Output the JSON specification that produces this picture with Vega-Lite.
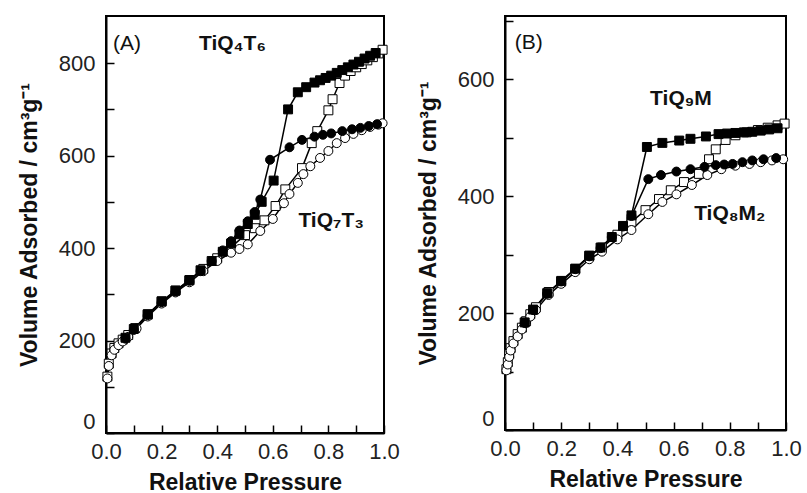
{
  "$schema": "https://vega.github.io/schema/vega-lite/v6.json",
  "background": "white",
  "padding": {"left": 17, "top": 15, "right": 5, "bottom": 2},
  "spacing": 15,
  "config": {
    "view": {"stroke": "black", "strokeWidth": 2},
    "font": "Liberation Sans",
    "axis": {
      "domainColor": "black", "domainWidth": 2, "zindex": 1, "ticks": true,
      "tickColor": "black", "tickWidth": 1.5,
      "labelFontSize": 22, "labelColor": "#222",
      "titleFontSize": 23, "titleFontWeight": "bold", "titleColor": "#111",
      "grid": false
    }
  },
  "data": {"values": [
    {"panel":"A","lab":"n","t":"(A)","p":0.025,"v":842},
    {"panel":"A","lab":"b","t":"TiQ₄T₆","p":0.455,"v":842},
    {"panel":"A","lab":"b","t":"TiQ₇T₃","p":0.81,"v":458},
    {"panel":"B","lab":"n","t":"(B)","p":0.035,"v":662},
    {"panel":"B","lab":"b","t":"TiQ₉M","p":0.626,"v":566},
    {"panel":"B","lab":"b","t":"TiQ₈M₂","p":0.8,"v":369},
    {"panel":"A","s":"TiQ4T6","b":"ads","p":0.005,"v":122},
    {"panel":"A","s":"TiQ4T6","b":"ads","p":0.01,"v":150},
    {"panel":"A","s":"TiQ4T6","b":"ads","p":0.02,"v":172},
    {"panel":"A","s":"TiQ4T6","b":"ads","p":0.03,"v":184},
    {"panel":"A","s":"TiQ4T6","b":"ads","p":0.045,"v":194},
    {"panel":"A","s":"TiQ4T6","b":"ads","p":0.06,"v":202},
    {"panel":"A","s":"TiQ4T6","b":"ads","p":0.08,"v":212},
    {"panel":"A","s":"TiQ4T6","b":"ads","p":0.105,"v":227},
    {"panel":"A","s":"TiQ4T6","b":"ads","p":0.15,"v":256},
    {"panel":"A","s":"TiQ4T6","b":"ads","p":0.2,"v":284},
    {"panel":"A","s":"TiQ4T6","b":"ads","p":0.25,"v":308},
    {"panel":"A","s":"TiQ4T6","b":"ads","p":0.3,"v":330},
    {"panel":"A","s":"TiQ4T6","b":"ads","p":0.35,"v":355},
    {"panel":"A","s":"TiQ4T6","b":"ads","p":0.4,"v":378},
    {"panel":"A","s":"TiQ4T6","b":"ads","p":0.45,"v":402},
    {"panel":"A","s":"TiQ4T6","b":"ads","p":0.5,"v":428},
    {"panel":"A","s":"TiQ4T6","b":"ads","p":0.535,"v":443},
    {"panel":"A","s":"TiQ4T6","b":"ads","p":0.57,"v":460},
    {"panel":"A","s":"TiQ4T6","b":"ads","p":0.61,"v":491},
    {"panel":"A","s":"TiQ4T6","b":"ads","p":0.645,"v":527},
    {"panel":"A","s":"TiQ4T6","b":"ads","p":0.705,"v":573},
    {"panel":"A","s":"TiQ4T6","b":"ads","p":0.74,"v":627},
    {"panel":"A","s":"TiQ4T6","b":"ads","p":0.76,"v":653},
    {"panel":"A","s":"TiQ4T6","b":"ads","p":0.8,"v":698},
    {"panel":"A","s":"TiQ4T6","b":"ads","p":0.815,"v":722},
    {"panel":"A","s":"TiQ4T6","b":"ads","p":0.84,"v":757},
    {"panel":"A","s":"TiQ4T6","b":"ads","p":0.86,"v":773},
    {"panel":"A","s":"TiQ4T6","b":"ads","p":0.88,"v":783},
    {"panel":"A","s":"TiQ4T6","b":"ads","p":0.9,"v":791},
    {"panel":"A","s":"TiQ4T6","b":"ads","p":0.92,"v":798},
    {"panel":"A","s":"TiQ4T6","b":"ads","p":0.94,"v":806},
    {"panel":"A","s":"TiQ4T6","b":"ads","p":0.96,"v":813},
    {"panel":"A","s":"TiQ4T6","b":"ads","p":0.98,"v":821},
    {"panel":"A","s":"TiQ4T6","b":"ads","p":0.995,"v":829},
    {"panel":"A","s":"TiQ4T6","b":"des","p":0.97,"v":822},
    {"panel":"A","s":"TiQ4T6","b":"des","p":0.95,"v":816},
    {"panel":"A","s":"TiQ4T6","b":"des","p":0.93,"v":810},
    {"panel":"A","s":"TiQ4T6","b":"des","p":0.91,"v":803},
    {"panel":"A","s":"TiQ4T6","b":"des","p":0.89,"v":797},
    {"panel":"A","s":"TiQ4T6","b":"des","p":0.87,"v":791},
    {"panel":"A","s":"TiQ4T6","b":"des","p":0.85,"v":785},
    {"panel":"A","s":"TiQ4T6","b":"des","p":0.83,"v":779},
    {"panel":"A","s":"TiQ4T6","b":"des","p":0.81,"v":773},
    {"panel":"A","s":"TiQ4T6","b":"des","p":0.79,"v":768},
    {"panel":"A","s":"TiQ4T6","b":"des","p":0.77,"v":763},
    {"panel":"A","s":"TiQ4T6","b":"des","p":0.75,"v":758},
    {"panel":"A","s":"TiQ4T6","b":"des","p":0.72,"v":748},
    {"panel":"A","s":"TiQ4T6","b":"des","p":0.69,"v":737},
    {"panel":"A","s":"TiQ4T6","b":"des","p":0.655,"v":700},
    {"panel":"A","s":"TiQ4T6","b":"des","p":0.603,"v":546},
    {"panel":"A","s":"TiQ4T6","b":"des","p":0.56,"v":500},
    {"panel":"A","s":"TiQ4T6","b":"des","p":0.535,"v":472},
    {"panel":"A","s":"TiQ4T6","b":"des","p":0.51,"v":452},
    {"panel":"A","s":"TiQ4T6","b":"des","p":0.48,"v":430},
    {"panel":"A","s":"TiQ4T6","b":"des","p":0.45,"v":410},
    {"panel":"A","s":"TiQ4T6","b":"des","p":0.42,"v":392},
    {"panel":"A","s":"TiQ4T6","b":"des","p":0.38,"v":372},
    {"panel":"A","s":"TiQ4T6","b":"des","p":0.34,"v":352},
    {"panel":"A","s":"TiQ4T6","b":"des","p":0.3,"v":331},
    {"panel":"A","s":"TiQ4T6","b":"des","p":0.25,"v":308},
    {"panel":"A","s":"TiQ4T6","b":"des","p":0.2,"v":285},
    {"panel":"A","s":"TiQ4T6","b":"des","p":0.15,"v":257},
    {"panel":"A","s":"TiQ4T6","b":"des","p":0.1,"v":225},
    {"panel":"A","s":"TiQ4T6","b":"des","p":0.07,"v":206},
    {"panel":"A","s":"TiQ7T3","b":"ads","p":0.005,"v":118},
    {"panel":"A","s":"TiQ7T3","b":"ads","p":0.01,"v":145},
    {"panel":"A","s":"TiQ7T3","b":"ads","p":0.02,"v":168},
    {"panel":"A","s":"TiQ7T3","b":"ads","p":0.03,"v":180},
    {"panel":"A","s":"TiQ7T3","b":"ads","p":0.045,"v":190},
    {"panel":"A","s":"TiQ7T3","b":"ads","p":0.06,"v":198},
    {"panel":"A","s":"TiQ7T3","b":"ads","p":0.08,"v":208},
    {"panel":"A","s":"TiQ7T3","b":"ads","p":0.11,"v":226},
    {"panel":"A","s":"TiQ7T3","b":"ads","p":0.15,"v":252},
    {"panel":"A","s":"TiQ7T3","b":"ads","p":0.2,"v":280},
    {"panel":"A","s":"TiQ7T3","b":"ads","p":0.25,"v":304},
    {"panel":"A","s":"TiQ7T3","b":"ads","p":0.3,"v":326},
    {"panel":"A","s":"TiQ7T3","b":"ads","p":0.35,"v":350},
    {"panel":"A","s":"TiQ7T3","b":"ads","p":0.4,"v":372},
    {"panel":"A","s":"TiQ7T3","b":"ads","p":0.45,"v":390},
    {"panel":"A","s":"TiQ7T3","b":"ads","p":0.48,"v":398},
    {"panel":"A","s":"TiQ7T3","b":"ads","p":0.51,"v":408},
    {"panel":"A","s":"TiQ7T3","b":"ads","p":0.555,"v":437},
    {"panel":"A","s":"TiQ7T3","b":"ads","p":0.6,"v":463},
    {"panel":"A","s":"TiQ7T3","b":"ads","p":0.64,"v":497},
    {"panel":"A","s":"TiQ7T3","b":"ads","p":0.66,"v":517},
    {"panel":"A","s":"TiQ7T3","b":"ads","p":0.69,"v":541},
    {"panel":"A","s":"TiQ7T3","b":"ads","p":0.71,"v":560},
    {"panel":"A","s":"TiQ7T3","b":"ads","p":0.735,"v":577},
    {"panel":"A","s":"TiQ7T3","b":"ads","p":0.77,"v":595},
    {"panel":"A","s":"TiQ7T3","b":"ads","p":0.8,"v":610},
    {"panel":"A","s":"TiQ7T3","b":"ads","p":0.83,"v":627},
    {"panel":"A","s":"TiQ7T3","b":"ads","p":0.86,"v":638},
    {"panel":"A","s":"TiQ7T3","b":"ads","p":0.89,"v":647},
    {"panel":"A","s":"TiQ7T3","b":"ads","p":0.92,"v":655},
    {"panel":"A","s":"TiQ7T3","b":"ads","p":0.95,"v":662},
    {"panel":"A","s":"TiQ7T3","b":"ads","p":0.98,"v":667},
    {"panel":"A","s":"TiQ7T3","b":"ads","p":0.995,"v":670},
    {"panel":"A","s":"TiQ7T3","b":"des","p":0.975,"v":668},
    {"panel":"A","s":"TiQ7T3","b":"des","p":0.945,"v":664},
    {"panel":"A","s":"TiQ7T3","b":"des","p":0.915,"v":660},
    {"panel":"A","s":"TiQ7T3","b":"des","p":0.885,"v":657},
    {"panel":"A","s":"TiQ7T3","b":"des","p":0.85,"v":653},
    {"panel":"A","s":"TiQ7T3","b":"des","p":0.81,"v":648},
    {"panel":"A","s":"TiQ7T3","b":"des","p":0.78,"v":645},
    {"panel":"A","s":"TiQ7T3","b":"des","p":0.75,"v":641},
    {"panel":"A","s":"TiQ7T3","b":"des","p":0.705,"v":634},
    {"panel":"A","s":"TiQ7T3","b":"des","p":0.66,"v":618},
    {"panel":"A","s":"TiQ7T3","b":"des","p":0.59,"v":591},
    {"panel":"A","s":"TiQ7T3","b":"des","p":0.555,"v":505},
    {"panel":"A","s":"TiQ7T3","b":"des","p":0.535,"v":478},
    {"panel":"A","s":"TiQ7T3","b":"des","p":0.51,"v":458},
    {"panel":"A","s":"TiQ7T3","b":"des","p":0.48,"v":438},
    {"panel":"A","s":"TiQ7T3","b":"des","p":0.45,"v":415},
    {"panel":"A","s":"TiQ7T3","b":"des","p":0.42,"v":395},
    {"panel":"A","s":"TiQ7T3","b":"des","p":0.38,"v":372},
    {"panel":"A","s":"TiQ7T3","b":"des","p":0.34,"v":350},
    {"panel":"A","s":"TiQ7T3","b":"des","p":0.3,"v":329},
    {"panel":"A","s":"TiQ7T3","b":"des","p":0.25,"v":306},
    {"panel":"A","s":"TiQ7T3","b":"des","p":0.2,"v":283},
    {"panel":"A","s":"TiQ7T3","b":"des","p":0.15,"v":255},
    {"panel":"A","s":"TiQ7T3","b":"des","p":0.1,"v":223},
    {"panel":"A","s":"TiQ7T3","b":"des","p":0.07,"v":204},
    {"panel":"B","s":"TiQ9M","b":"ads","p":0.005,"v":104},
    {"panel":"B","s":"TiQ9M","b":"ads","p":0.01,"v":116},
    {"panel":"B","s":"TiQ9M","b":"ads","p":0.015,"v":130},
    {"panel":"B","s":"TiQ9M","b":"ads","p":0.02,"v":140},
    {"panel":"B","s":"TiQ9M","b":"ads","p":0.03,"v":152},
    {"panel":"B","s":"TiQ9M","b":"ads","p":0.045,"v":164},
    {"panel":"B","s":"TiQ9M","b":"ads","p":0.06,"v":175},
    {"panel":"B","s":"TiQ9M","b":"ads","p":0.075,"v":186},
    {"panel":"B","s":"TiQ9M","b":"ads","p":0.09,"v":198},
    {"panel":"B","s":"TiQ9M","b":"ads","p":0.11,"v":210},
    {"panel":"B","s":"TiQ9M","b":"ads","p":0.155,"v":236},
    {"panel":"B","s":"TiQ9M","b":"ads","p":0.2,"v":254},
    {"panel":"B","s":"TiQ9M","b":"ads","p":0.25,"v":275},
    {"panel":"B","s":"TiQ9M","b":"ads","p":0.3,"v":298},
    {"panel":"B","s":"TiQ9M","b":"ads","p":0.345,"v":312},
    {"panel":"B","s":"TiQ9M","b":"ads","p":0.4,"v":334},
    {"panel":"B","s":"TiQ9M","b":"ads","p":0.45,"v":356},
    {"panel":"B","s":"TiQ9M","b":"ads","p":0.5,"v":376},
    {"panel":"B","s":"TiQ9M","b":"ads","p":0.548,"v":395},
    {"panel":"B","s":"TiQ9M","b":"ads","p":0.59,"v":410},
    {"panel":"B","s":"TiQ9M","b":"ads","p":0.637,"v":424},
    {"panel":"B","s":"TiQ9M","b":"ads","p":0.69,"v":438},
    {"panel":"B","s":"TiQ9M","b":"ads","p":0.726,"v":463},
    {"panel":"B","s":"TiQ9M","b":"ads","p":0.75,"v":480},
    {"panel":"B","s":"TiQ9M","b":"ads","p":0.785,"v":496},
    {"panel":"B","s":"TiQ9M","b":"ads","p":0.82,"v":504},
    {"panel":"B","s":"TiQ9M","b":"ads","p":0.86,"v":509},
    {"panel":"B","s":"TiQ9M","b":"ads","p":0.9,"v":513},
    {"panel":"B","s":"TiQ9M","b":"ads","p":0.935,"v":517},
    {"panel":"B","s":"TiQ9M","b":"ads","p":0.97,"v":521},
    {"panel":"B","s":"TiQ9M","b":"ads","p":0.995,"v":524},
    {"panel":"B","s":"TiQ9M","b":"des","p":0.97,"v":516},
    {"panel":"B","s":"TiQ9M","b":"des","p":0.94,"v":514},
    {"panel":"B","s":"TiQ9M","b":"des","p":0.91,"v":512},
    {"panel":"B","s":"TiQ9M","b":"des","p":0.88,"v":510},
    {"panel":"B","s":"TiQ9M","b":"des","p":0.85,"v":509},
    {"panel":"B","s":"TiQ9M","b":"des","p":0.82,"v":508},
    {"panel":"B","s":"TiQ9M","b":"des","p":0.79,"v":507},
    {"panel":"B","s":"TiQ9M","b":"des","p":0.76,"v":506},
    {"panel":"B","s":"TiQ9M","b":"des","p":0.715,"v":502},
    {"panel":"B","s":"TiQ9M","b":"des","p":0.66,"v":498},
    {"panel":"B","s":"TiQ9M","b":"des","p":0.62,"v":495},
    {"panel":"B","s":"TiQ9M","b":"des","p":0.56,"v":491},
    {"panel":"B","s":"TiQ9M","b":"des","p":0.505,"v":484},
    {"panel":"B","s":"TiQ9M","b":"des","p":0.45,"v":367},
    {"panel":"B","s":"TiQ9M","b":"des","p":0.42,"v":349},
    {"panel":"B","s":"TiQ9M","b":"des","p":0.38,"v":330},
    {"panel":"B","s":"TiQ9M","b":"des","p":0.34,"v":312},
    {"panel":"B","s":"TiQ9M","b":"des","p":0.3,"v":298},
    {"panel":"B","s":"TiQ9M","b":"des","p":0.25,"v":276},
    {"panel":"B","s":"TiQ9M","b":"des","p":0.2,"v":255},
    {"panel":"B","s":"TiQ9M","b":"des","p":0.15,"v":234},
    {"panel":"B","s":"TiQ9M","b":"des","p":0.1,"v":206},
    {"panel":"B","s":"TiQ9M","b":"des","p":0.07,"v":184},
    {"panel":"B","s":"TiQ8M2","b":"ads","p":0.005,"v":102},
    {"panel":"B","s":"TiQ8M2","b":"ads","p":0.01,"v":112},
    {"panel":"B","s":"TiQ8M2","b":"ads","p":0.015,"v":125},
    {"panel":"B","s":"TiQ8M2","b":"ads","p":0.02,"v":136},
    {"panel":"B","s":"TiQ8M2","b":"ads","p":0.03,"v":148},
    {"panel":"B","s":"TiQ8M2","b":"ads","p":0.045,"v":160},
    {"panel":"B","s":"TiQ8M2","b":"ads","p":0.06,"v":172},
    {"panel":"B","s":"TiQ8M2","b":"ads","p":0.075,"v":183},
    {"panel":"B","s":"TiQ8M2","b":"ads","p":0.09,"v":194},
    {"panel":"B","s":"TiQ8M2","b":"ads","p":0.11,"v":205},
    {"panel":"B","s":"TiQ8M2","b":"ads","p":0.155,"v":231},
    {"panel":"B","s":"TiQ8M2","b":"ads","p":0.2,"v":250},
    {"panel":"B","s":"TiQ8M2","b":"ads","p":0.25,"v":270},
    {"panel":"B","s":"TiQ8M2","b":"ads","p":0.3,"v":292},
    {"panel":"B","s":"TiQ8M2","b":"ads","p":0.345,"v":305},
    {"panel":"B","s":"TiQ8M2","b":"ads","p":0.4,"v":326},
    {"panel":"B","s":"TiQ8M2","b":"ads","p":0.45,"v":342},
    {"panel":"B","s":"TiQ8M2","b":"ads","p":0.51,"v":369},
    {"panel":"B","s":"TiQ8M2","b":"ads","p":0.56,"v":390},
    {"panel":"B","s":"TiQ8M2","b":"ads","p":0.61,"v":403},
    {"panel":"B","s":"TiQ8M2","b":"ads","p":0.665,"v":419},
    {"panel":"B","s":"TiQ8M2","b":"ads","p":0.72,"v":436},
    {"panel":"B","s":"TiQ8M2","b":"ads","p":0.77,"v":446},
    {"panel":"B","s":"TiQ8M2","b":"ads","p":0.82,"v":452},
    {"panel":"B","s":"TiQ8M2","b":"ads","p":0.87,"v":455},
    {"panel":"B","s":"TiQ8M2","b":"ads","p":0.91,"v":458},
    {"panel":"B","s":"TiQ8M2","b":"ads","p":0.95,"v":461},
    {"panel":"B","s":"TiQ8M2","b":"ads","p":0.99,"v":463},
    {"panel":"B","s":"TiQ8M2","b":"des","p":0.965,"v":465},
    {"panel":"B","s":"TiQ8M2","b":"des","p":0.92,"v":463},
    {"panel":"B","s":"TiQ8M2","b":"des","p":0.88,"v":461},
    {"panel":"B","s":"TiQ8M2","b":"des","p":0.845,"v":458},
    {"panel":"B","s":"TiQ8M2","b":"des","p":0.81,"v":455},
    {"panel":"B","s":"TiQ8M2","b":"des","p":0.78,"v":454},
    {"panel":"B","s":"TiQ8M2","b":"des","p":0.75,"v":453},
    {"panel":"B","s":"TiQ8M2","b":"des","p":0.71,"v":450},
    {"panel":"B","s":"TiQ8M2","b":"des","p":0.66,"v":446},
    {"panel":"B","s":"TiQ8M2","b":"des","p":0.61,"v":442},
    {"panel":"B","s":"TiQ8M2","b":"des","p":0.555,"v":436},
    {"panel":"B","s":"TiQ8M2","b":"des","p":0.51,"v":429},
    {"panel":"B","s":"TiQ8M2","b":"des","p":0.45,"v":366},
    {"panel":"B","s":"TiQ8M2","b":"des","p":0.42,"v":348},
    {"panel":"B","s":"TiQ8M2","b":"des","p":0.38,"v":330},
    {"panel":"B","s":"TiQ8M2","b":"des","p":0.34,"v":311},
    {"panel":"B","s":"TiQ8M2","b":"des","p":0.3,"v":297},
    {"panel":"B","s":"TiQ8M2","b":"des","p":0.25,"v":275},
    {"panel":"B","s":"TiQ8M2","b":"des","p":0.2,"v":254},
    {"panel":"B","s":"TiQ8M2","b":"des","p":0.15,"v":233},
    {"panel":"B","s":"TiQ8M2","b":"des","p":0.1,"v":205},
    {"panel":"B","s":"TiQ8M2","b":"des","p":0.07,"v":183}
  ]},
  "hconcat": [
    {
      "width": 278, "height": 417,
      "transform": [{"filter": "datum.panel === 'A'"}],
      "encoding": {
        "x": {"field": "p", "type": "quantitative", "scale": {"domain": [0, 1], "nice": false},
          "axis": {"title": "Relative Pressure", "values": [0,0.1,0.2,0.3,0.4,0.5,0.6,0.7,0.8,0.9,1.0],
            "labelExpr": "round(datum.value*10) % 2 === 0 ? format(datum.value, '.1f') : ''", "labelFlush": false,
            "tickSize": -8, "labelPadding": 16, "titlePadding": 9}},
        "y": {"field": "v", "type": "quantitative", "scale": {"domain": [0, 902], "nice": false},
          "axis": {"title": "Volume Adsorbed / cm³g⁻¹", "values": [0,100,200,300,400,500,600,700,800],
            "labelExpr": "datum.value % 200 === 0 ? datum.label : ''", "labelFlush": true,
            "tickSize": -8, "labelPadding": 19, "titlePadding": 17}}
      },
      "layer": [
        {
          "transform": [{"filter": "!datum.lab"}],
          "mark": {"type": "line", "color": "black", "strokeWidth": 1.5},
          "encoding": {"detail": [{"field": "s"}, {"field": "b"}]}
        },
        {
          "transform": [{"filter": "!datum.lab"}],
          "mark": {"type": "point", "filled": true, "stroke": "black", "strokeWidth": 1, "size": 80, "opacity": 1},
          "encoding": {
            "shape": {"field": "s", "type": "nominal", "legend": null, "scale": {"domain": ["TiQ4T6","TiQ7T3","TiQ9M","TiQ8M2"], "range": ["square","circle","square","circle"]}},
            "fill": {"field": "b", "type": "nominal", "legend": null, "scale": {"domain": ["ads","des"], "range": ["white","black"]}},
            "order": {"field": "b", "sort": "ascending"}
          }
        },
        {
          "transform": [{"filter": "datum.lab === 'n'"}],
          "mark": {"type": "text", "align": "left", "baseline": "middle", "fontSize": 21, "color": "#111"},
          "encoding": {"text": {"field": "t"}}
        },
        {
          "transform": [{"filter": "datum.lab === 'b'"}],
          "mark": {"type": "text", "align": "center", "baseline": "middle", "fontSize": 21, "fontWeight": "bold", "color": "#111"},
          "encoding": {"text": {"field": "t"}}
        }
      ]
    },
    {
      "width": 281, "height": 414,
      "transform": [{"filter": "datum.panel === 'B'"}],
      "encoding": {
        "x": {"field": "p", "type": "quantitative", "scale": {"domain": [0, 1], "nice": false},
          "axis": {"title": "Relative Pressure", "values": [0,0.1,0.2,0.3,0.4,0.5,0.6,0.7,0.8,0.9,1.0],
            "labelExpr": "round(datum.value*10) % 2 === 0 ? format(datum.value, '.1f') : ''", "labelFlush": false,
            "tickSize": -8, "labelPadding": 16, "titlePadding": 9}},
        "y": {"field": "v", "type": "quantitative", "scale": {"domain": [0, 708], "nice": false},
          "axis": {"title": "Volume Adsorbed / cm³g⁻¹", "values": [0,100,200,300,400,500,600,700],
            "labelExpr": "datum.value % 200 === 0 ? datum.label : ''", "labelFlush": true,
            "tickSize": -8, "labelPadding": 19, "titlePadding": 17}}
      },
      "layer": [
        {
          "transform": [{"filter": "!datum.lab"}],
          "mark": {"type": "line", "color": "black", "strokeWidth": 1.5},
          "encoding": {"detail": [{"field": "s"}, {"field": "b"}]}
        },
        {
          "transform": [{"filter": "!datum.lab"}],
          "mark": {"type": "point", "filled": true, "stroke": "black", "strokeWidth": 1, "size": 80, "opacity": 1},
          "encoding": {
            "shape": {"field": "s", "type": "nominal", "legend": null, "scale": {"domain": ["TiQ4T6","TiQ7T3","TiQ9M","TiQ8M2"], "range": ["square","circle","square","circle"]}},
            "fill": {"field": "b", "type": "nominal", "legend": null, "scale": {"domain": ["ads","des"], "range": ["white","black"]}},
            "order": {"field": "b", "sort": "ascending"}
          }
        },
        {
          "transform": [{"filter": "datum.lab === 'n'"}],
          "mark": {"type": "text", "align": "left", "baseline": "middle", "fontSize": 21, "color": "#111"},
          "encoding": {"text": {"field": "t"}}
        },
        {
          "transform": [{"filter": "datum.lab === 'b'"}],
          "mark": {"type": "text", "align": "center", "baseline": "middle", "fontSize": 21, "fontWeight": "bold", "color": "#111"},
          "encoding": {"text": {"field": "t"}}
        }
      ]
    }
  ]
}
